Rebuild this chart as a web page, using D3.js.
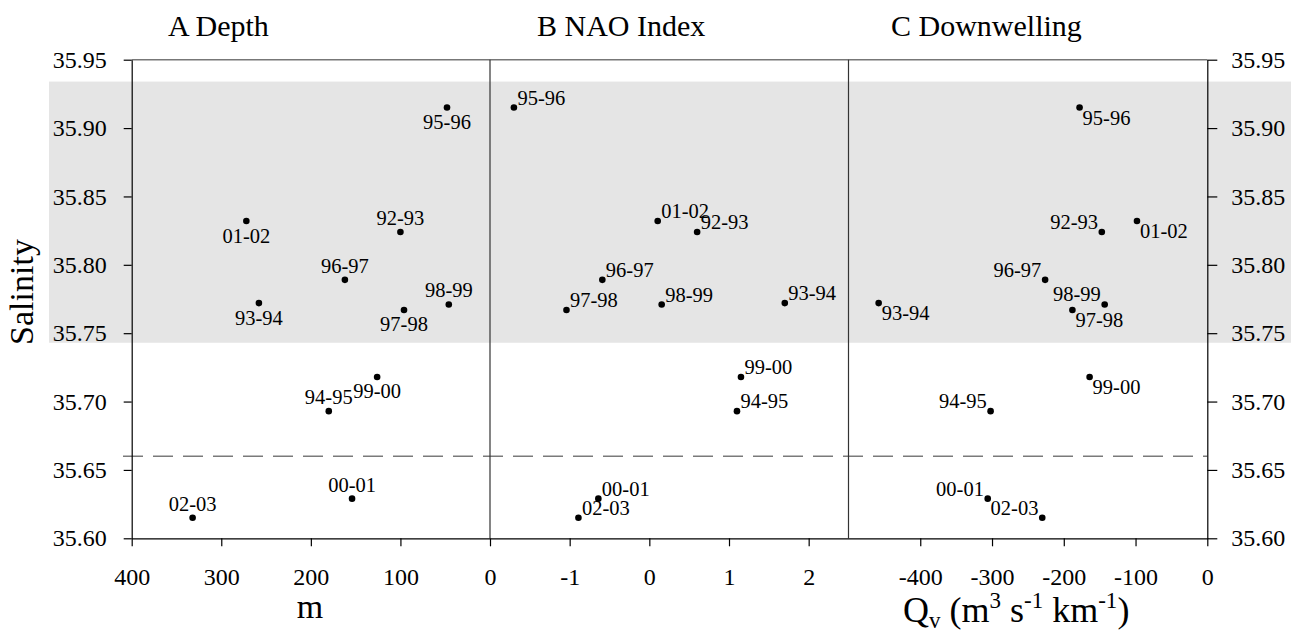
<!DOCTYPE html>
<html>
<head>
<meta charset="utf-8">
<script src="https://cdn.jsdelivr.net/npm/d3@7"></script>
</head>
<body style="margin:0">
<svg id="chart" width="1291" height="633"></svg>
<script>
// winter seasons
const years = ['92-93', '93-94', '94-95', '95-96', '96-97', '97-98', '98-99', '99-00', '00-01', '01-02', '02-03'];
// salinity per season (shared y)
const salinity = [35.824, 35.772, 35.693, 35.915, 35.789, 35.767, 35.771, 35.718, 35.629, 35.832, 35.615];
// A: depth (m), B: NAO index, C: downwelling Qv
const depth = [100, 258, 180, 48, 162, 96, 46, 126, 154, 272, 332];
const nao = [0.60, 1.70, 1.10, -1.70, -0.59, -1.04, 0.155, 1.15, -0.64, 0.105, -0.89];
const downwelling = [-147, -458, -302, -178, -226, -188, -143, -164, -306, -98, -230];

const salinityTicks = [35.60, 35.65, 35.70, 35.75, 35.80, 35.85, 35.90, 35.95];
const depthTicks = [400, 300, 200, 100, 0];
const naoTicks = [-1, 0, 1, 2];
const downwellingTicks = [-400, -300, -200, -100, 0];
const bandRange = [35.743, 35.934];
const threshold = 35.66;

const FONT = 'Liberation Serif';
const svg = d3.select('#chart').attr('font-family', FONT);
const plotTop = 59.7, plotBottom = 538.3;
const plotLeft = 131.7, plotRight = 1207.3;

let y = d3.scaleLinear().domain([35.60, 35.95]).range([plotBottom, plotTop]);

let panels = [
    { title: 'A Depth', titleX: 168, values: depth, ticks: depthTicks,
      x: d3.scaleLinear().domain([400, 0]).range([plotLeft, 490]), labels: 'vertical' },
    { title: 'B NAO Index', titleX: 537, values: nao, ticks: naoTicks,
      x: d3.scaleLinear().domain([-2, 2.5]).range([490, 848.5]), labels: 'right' },
    { title: 'C Downwelling', titleX: 891, values: downwelling, ticks: downwellingTicks,
      x: d3.scaleLinear().domain([-500, 0]).range([848.5, plotRight]), labels: 'diagonal' }
];

// grey band
svg.append('rect')
    .attr('x', 49).attr('width', 1291 - 49)
    .attr('y', y(bandRange[1]))
    .attr('height', y(bandRange[0]) - y(bandRange[1]))
    .attr('fill', '#e5e5e5');

// dashed threshold line
svg.append('line')
    .attr('x1', 123).attr('x2', plotRight)
    .attr('y1', y(threshold)).attr('y2', y(threshold))
    .attr('stroke', '#7a7a7a').attr('stroke-width', 1.3)
    .attr('stroke-dasharray', '20,10');

// top frame line
svg.append('line')
    .attr('x1', plotLeft).attr('x2', plotRight)
    .attr('y1', plotTop).attr('y2', plotTop)
    .attr('stroke', '#777').attr('stroke-width', 1.5);

// y axes
svg.append('g')
    .attr('transform', `translate(${plotLeft},0)`)
    .call(d3.axisLeft(y).tickValues(salinityTicks).tickFormat(d3.format('.2f'))
        .tickSizeInner(8).tickSizeOuter(0).tickPadding(17))
    .attr('font-family', FONT).attr('font-size', 24);
svg.append('g')
    .attr('transform', `translate(${plotRight},0)`)
    .call(d3.axisRight(y).tickValues(salinityTicks).tickFormat(d3.format('.2f'))
        .tickSizeInner(10).tickSizeOuter(0).tickPadding(14))
    .attr('font-family', FONT).attr('font-size', 24);

// panel separators
[490, 848.5].forEach(function (px) {
    svg.append('line')
        .attr('x1', px).attr('x2', px)
        .attr('y1', plotTop).attr('y2', plotBottom)
        .attr('stroke', '#333').attr('stroke-width', 1.2);
});

panels.forEach(function (p) {
    // x axis
    svg.append('g')
        .attr('transform', `translate(0,${plotBottom})`)
        .call(d3.axisBottom(p.x).tickValues(p.ticks).tickFormat(d => String(d))
            .tickSizeInner(8).tickSizeOuter(0).tickPadding(22))
        .attr('font-family', FONT).attr('font-size', 24);

    // title
    svg.append('text')
        .attr('x', p.titleX).attr('y', 36)
        .style('font-family', FONT)
        .style('font-size', '30px')
        .text(p.title);

    let g = svg.append('g').attr('font-family', FONT).attr('font-size', 20.5);
    g.selectAll('circle')
        .data(years)
        .enter()
        .append('circle')
        .attr('cx', (d, k) => p.x(p.values[k]))
        .attr('cy', (d, k) => y(salinity[k]))
        .attr('r', 3.3)
        .attr('fill', '#000');

    // label side alternates through the seasons
    g.selectAll('text')
        .data(years)
        .enter()
        .append('text')
        .attr('x', function (d, k) {
            let cx = p.x(p.values[k]);
            if (p.labels === 'vertical') return cx;
            if (p.labels === 'right') return cx + 3.5;
            return k % 2 === 0 ? cx - 3.8 : cx + 3;
        })
        .attr('y', function (d, k) {
            let cy = y(salinity[k]);
            if (p.labels === 'vertical') return k % 2 === 0 ? cy - 7 : cy + 21.5;
            if (p.labels === 'right') return cy - 2.8;
            return k % 2 === 0 ? cy - 3 : cy + 17.3;
        })
        .attr('text-anchor', function (d, k) {
            if (p.labels === 'vertical') return 'middle';
            if (p.labels === 'right') return 'start';
            return k % 2 === 0 ? 'end' : 'start';
        })
        .text(d => d);
});

// axis styling
svg.selectAll('.domain').attr('stroke', '#000').attr('stroke-width', 1.2);
svg.selectAll('.tick line').attr('stroke', '#000').attr('stroke-width', 1.2);

// axis titles
svg.append('text')
    .attr('transform', 'translate(33,292) rotate(-90)')
    .attr('text-anchor', 'middle')
    .attr('font-size', 34)
    .text('Salinity');

svg.append('text')
    .attr('x', 310).attr('y', 618)
    .attr('text-anchor', 'middle')
    .attr('font-size', 34)
    .text('m');

let q = svg.append('text')
    .attr('x', 903).attr('y', 622)
    .attr('font-size', 36);
q.append('tspan').text('Q');
q.append('tspan').attr('dy', 6).attr('font-size', 23).text('v');
q.append('tspan').attr('dy', -6).text(' (m');
q.append('tspan').attr('dy', -14).attr('font-size', 23).text('3');
q.append('tspan').attr('dy', 14).text(' s');
q.append('tspan').attr('dy', -14).attr('font-size', 23).text('-1');
q.append('tspan').attr('dy', 14).text(' km');
q.append('tspan').attr('dy', -14).attr('font-size', 23).text('-1');
q.append('tspan').attr('dy', 14).text(')');
</script>
</body>
</html>
